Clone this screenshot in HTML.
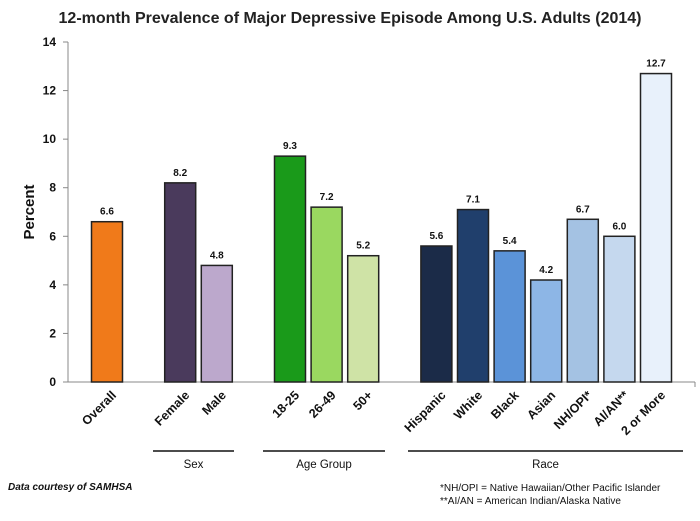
<!DOCTYPE html>
<html><head><meta charset="utf-8"><style>
body{margin:0;background:#fff;}
svg{display:block;font-family:"Liberation Sans",sans-serif;}
</style></head><body>
<svg id="c" width="700" height="521">
<text x="350" y="23" text-anchor="middle" font-size="16" font-weight="bold" fill="#222">12-month Prevalence of Major Depressive Episode Among U.S. Adults (2014)</text>
<text transform="translate(34,212) rotate(-90)" text-anchor="middle" font-size="15" font-weight="bold" fill="#111">Percent</text>
<text x="8" y="490" font-size="10" font-weight="bold" font-style="italic" fill="#111">Data courtesy of SAMHSA</text>
<text x="440" y="491" font-size="10" fill="#111">*NH/OPI = Native Hawaiian/Other Pacific Islander</text>
<text x="440" y="504" font-size="10" fill="#111">**AI/AN = American Indian/Alaska Native</text>
</svg>
<script>
const categories=["Overall","Female","Male","18-25","26-49","50+","Hispanic","White","Black","Asian","NH/OPI*","AI/AN**","2 or More"];
const values=[6.6,8.2,4.8,9.3,7.2,5.2,5.6,7.1,5.4,4.2,6.7,6.0,12.7];
const valueLabels=["6.6","8.2","4.8","9.3","7.2","5.2","5.6","7.1","5.4","4.2","6.7","6.0","12.7"];
const yTicks=[0,2,4,6,8,10,12,14];
const colors=["#f07a1a","#4a3a5c","#bca8cc","#1a9a1a","#9ad860","#cfe3a6","#1b2b48","#203f6c","#5b93d8","#8db6e6","#a4c2e3","#c5d8ee","#e8f1fb"];
const slots=[0,2,3,5,6,7,9,10,11,12,13,14,15];
const groupNames=["Sex","Age Group","Race"];
const groupRanges=[[153,234],[263,385],[408,683]];

const svg=document.getElementById('c');const NS="http://www.w3.org/2000/svg";
const y0=382,y1=42,x0=68,xEnd=695;
const yS=v=>y0-(v/14)*(y0-y1);
const xS=i=>107+(slots[i])*36.6;
function mk(t,a){const e=document.createElementNS(NS,t);for(const k in a)e.setAttribute(k,a[k]);svg.appendChild(e);return e;}
let ax=mk('line',{x1:x0,y1:y1,x2:x0,y2:y0,stroke:'#888'});


let bx=mk('line',{x1:x0,y1:y0,x2:xEnd,y2:y0,stroke:'#888'});


mk('line',{x1:xEnd,y1:y0,x2:xEnd,y2:y0+5,stroke:'#888'});
yTicks.forEach(t=>{
 mk('line',{x1:x0-5,y1:yS(t),x2:x0,y2:yS(t),stroke:'#888'});
 const tx=mk('text',{x:x0-12,y:yS(t)+4,'text-anchor':'end','font-size':12,'font-weight':'bold',fill:'#111'});
 tx.textContent=t;
 
 
});
values.forEach((v,i)=>{
 const cx=xS(i),w=31;
 const r=mk('rect',{x:cx-w/2,y:yS(v),width:w,height:y0-yS(v),fill:colors[i],stroke:'#222','stroke-width':1.5});
 
 
 const l=mk('text',{x:cx,y:yS(v)-7,'text-anchor':'middle','font-size':10,'font-weight':'bold',fill:'#111'});
 l.textContent=valueLabels[i];
 
 
 const c=mk('text',{transform:`translate(${cx+10},${y0+14}) rotate(-45)`,'text-anchor':'end','font-size':12.5,'font-weight':'bold',fill:'#111'});
 c.textContent=categories[i];
 
 
});
groupNames.forEach((g,i)=>{
 const [a,b]=groupRanges[i];
 mk('line',{x1:a,y1:451,x2:b,y2:451,stroke:'#111','stroke-width':1.5});
 const t=mk('text',{x:(a+b)/2,y:468,'text-anchor':'middle','font-size':11.5,fill:'#111'});
 t.textContent=g;
 
 
});
</script>
</body></html>
